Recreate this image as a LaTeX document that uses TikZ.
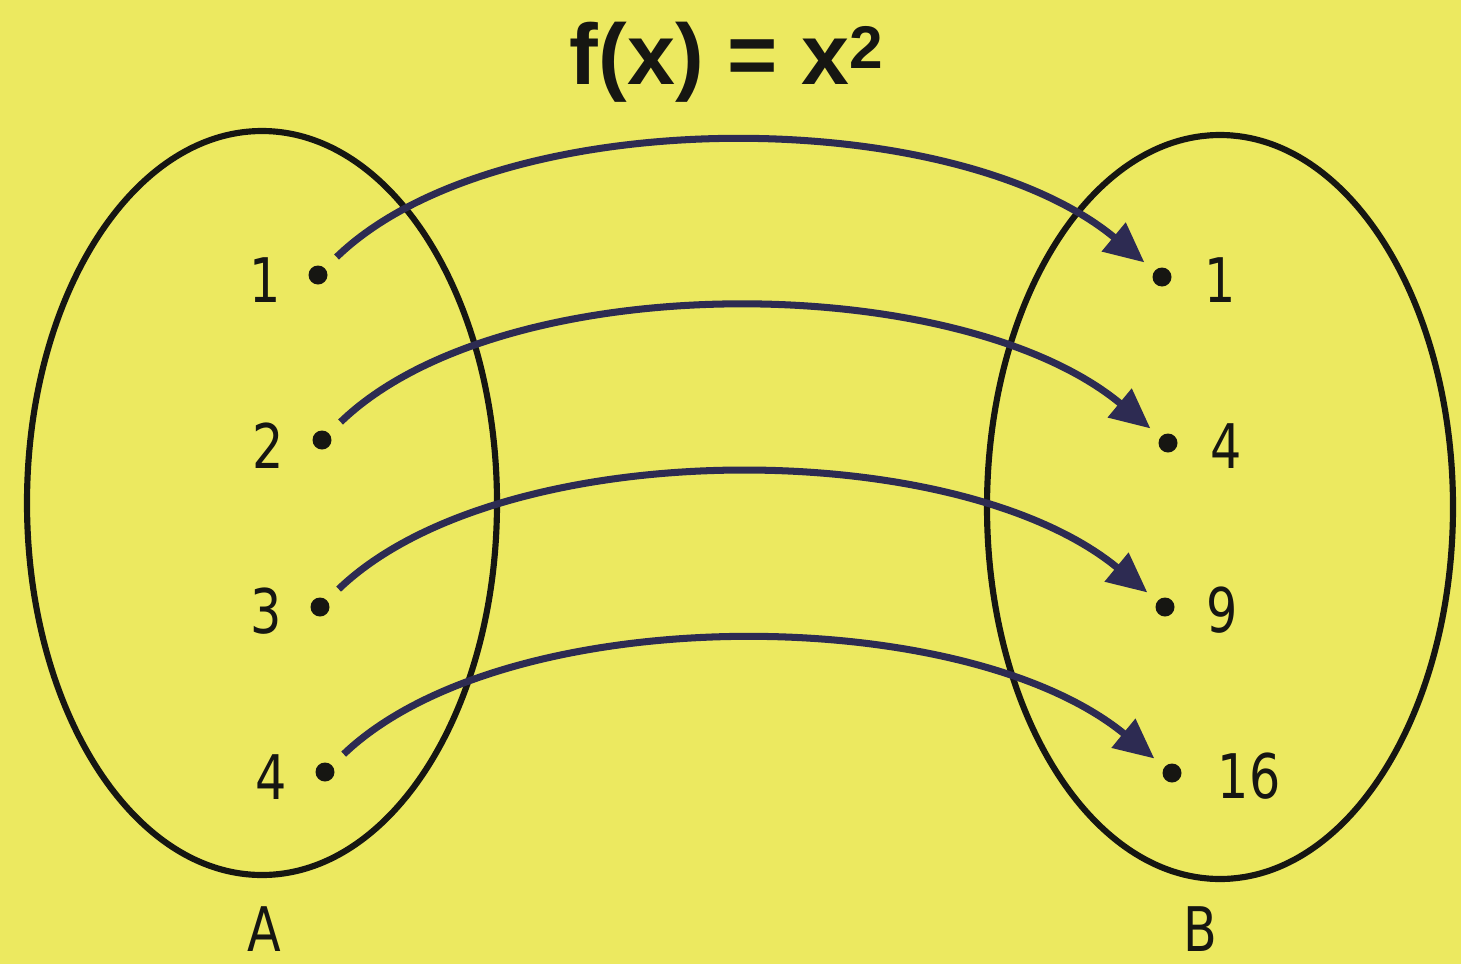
\documentclass[tikz,border=0pt]{standalone}
\usepackage{fontspec}
\setmainfont{DejaVu Sans}[FakeStretch=0.8]
\newfontfamily\titlefont{Liberation Sans}
\usetikzlibrary{arrows.meta}
\definecolor{bgyellow}{RGB}{236,233,96}
\definecolor{arrowcol}{RGB}{45,43,82}
\definecolor{inkcol}{RGB}{22,22,18}
\tikzset{
  setshape/.style={draw=inkcol, line width=3.5pt},
  dotnode/.style={circle, fill=inkcol, inner sep=0pt, minimum size=0.38cm},
  lbl/.style={text=inkcol, font=\fontsize{35}{40}\selectfont, inner sep=0pt},
  maparrow/.style={draw=arrowcol, line width=4pt,
    -{Triangle[length=0.8cm, width=0.72cm]}, shorten <=0.32cm, shorten >=0.26cm}
}
\begin{document}
\begin{tikzpicture}[x=0.02cm, y=-0.02cm]
\fill[bgyellow] (0,0) rectangle (1461,964);
\useasboundingbox (0,0) rectangle (1461,964);
% sets
\draw[setshape] (262,503) ellipse [x radius=235, y radius=372];
\draw[setshape] (1220,507) ellipse [x radius=233, y radius=372];
% title
\node[text=inkcol, font=\titlefont\bfseries\fontsize{49}{55}\selectfont, inner sep=0pt] (title) at (727,62) {f(x) = x\textsuperscript{2}};
% dots
\node[dotnode] (a1) at (318,275) {};
\node[dotnode] (a2) at (322,440) {};
\node[dotnode] (a3) at (320,607) {};
\node[dotnode] (a4) at (325,772) {};
\node[dotnode] (b1) at (1162,277) {};
\node[dotnode] (b2) at (1168,443) {};
\node[dotnode] (b3) at (1165,607) {};
\node[dotnode] (b4) at (1172,773) {};
% labels
\node[lbl] (la1) at (265,280) {1};
\node[lbl] (la2) at (268,446) {2};
\node[lbl] (la3) at (266,611) {3};
\node[lbl] (la4) at (271,777) {4};
\node[lbl] (lb1) at (1220,280) {1};
\node[lbl] (lb2) at (1226,446) {4};
\node[lbl] (lb3) at (1222,610) {9};
\node[lbl] (lb4) at (1249,776) {16};
\node[lbl] (setA) at (264,929) {A};
\node[lbl] (setB) at (1200,929) {B};
% arrows
\draw[maparrow] (a1) .. controls +(180,-174) and +(-210,-174) .. (b1);
\draw[maparrow] (a2) .. controls +(180,-174) and +(-210,-174) .. (b2);
\draw[maparrow] (a3) .. controls +(180,-173) and +(-210,-173) .. (b3);
\draw[maparrow] (a4) .. controls +(180,-172) and +(-210,-172) .. (b4);
\end{tikzpicture}
\end{document}
